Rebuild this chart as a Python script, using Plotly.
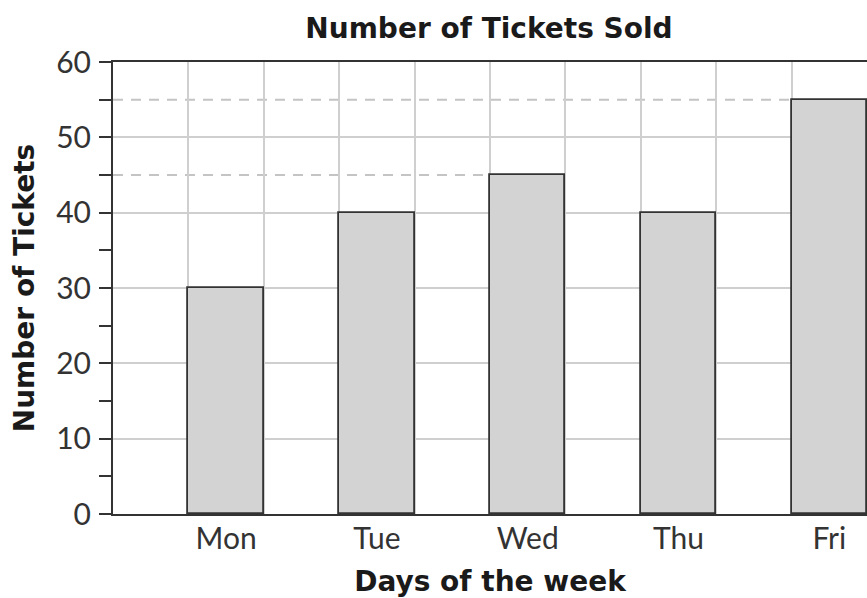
import plotly.graph_objects as go

days = ["Mon", "Tue", "Wed", "Thu", "Fri"]
tickets = [30, 40, 45, 40, 55]
y_ticks = [0, 10, 20, 30, 40, 50, 60]
dashed_days = ["Wed", "Fri"]

title = "Number of Tickets Sold"
x_title = "Days of the week"
y_title = "Number of Tickets"

BAR_W = 0.5
xpos = list(range(len(days)))
FONT = "DejaVu Sans"
TICK_FONT = "Lato"

fig = go.Figure()
fig.add_trace(go.Bar(
    x=xpos, y=tickets, width=BAR_W,
    marker=dict(color="#d3d3d3", line=dict(color="#333333", width=1.8)),
    hoverinfo="skip",
))

shapes = []
for d in dashed_days:
    i = days.index(d)
    shapes.append(dict(type="line", xref="x", yref="y",
                       x0=-0.75, x1=i - BAR_W / 2, y0=tickets[i], y1=tickets[i],
                       line=dict(color="#c4c4c4", width=2, dash="10px,8px"),
                       layer="below"))

fig.update_layout(
    width=867, height=598,
    margin=dict(l=113, r=0, t=62, b=84, autoexpand=False),
    paper_bgcolor="white", plot_bgcolor="white",
    showlegend=False,
    bargap=0,
    font=dict(family=FONT, color="#333333"),
    title=dict(text="<b>" + title + "</b>", x=0.564, xanchor="center",
               y=1 - 28 / 598, yanchor="middle",
               font=dict(family=FONT, size=28, color="#1a1a1a")),
    shapes=shapes,
    xaxis=dict(
        range=[-0.75, 4.25], automargin=False,
        tickvals=xpos, ticktext=days,
        showgrid=False, zeroline=False,
        showline=True, linecolor="#333333", linewidth=2, mirror=True,
        ticks="", tickfont=dict(family=TICK_FONT, size=30, color="#333333"),
        ticklabelstandoff=-3,
        minor=dict(tick0=-0.25, dtick=0.5, showgrid=True,
                   gridcolor="#cfcfcf", gridwidth=2, ticks=""),
        title=dict(text="<b>" + x_title + "</b>", standoff=20,
                   font=dict(family=FONT, size=28, color="#1a1a1a")),
    ),
    yaxis=dict(
        range=[0, 60], automargin=False,
        tickvals=y_ticks,
        showgrid=True, gridcolor="#cfcfcf", gridwidth=2,
        zeroline=False,
        showline=True, linecolor="#333333", linewidth=2,
        ticks="outside", ticklen=12, tickwidth=2, tickcolor="#333333",
        tickfont=dict(family=TICK_FONT, size=30, color="#333333"),
        ticklabelstandoff=2,
        minor=dict(dtick=5, ticks="outside", ticklen=12, tickwidth=2,
                   tickcolor="#333333", showgrid=False),
        title=dict(text="<b>" + y_title + "</b>", standoff=13,
                   font=dict(family=FONT, size=28, color="#1a1a1a")),
    ),
)

fig.write_html("out.html", config={"displayModeBar": False},
               post_script="document.body.style.margin='0';document.body.style.overflow='hidden';")
